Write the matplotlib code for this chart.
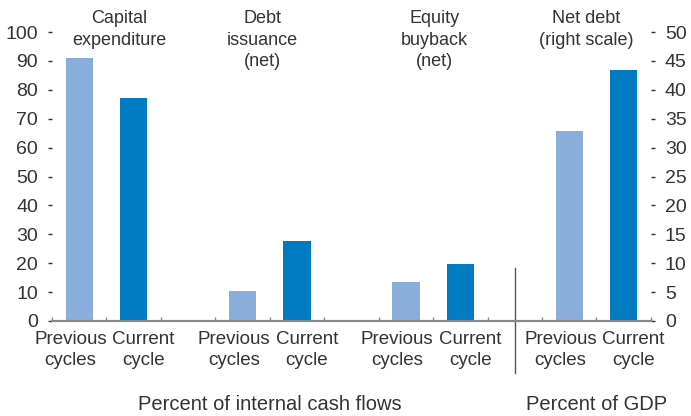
# Corporate cash-flow uses: previous cycles vs current cycle
# Bar chart with a second (right) scale for net debt

import numpy as np
import matplotlib
matplotlib.use("Agg")
import matplotlib.pyplot as plt

plt.rcParams['font.family'] = ['Liberation Sans', 'DejaVu Sans']

# Data
groups = ["Capital\nexpenditure", "Debt\nissuance\n(net)", "Equity\nbuyback\n(net)", "Net debt\n(right scale)"]
previous = [91, 10.5, 13.5, 32.8]     # last one is percent of GDP (right scale)
current = [77, 27.8, 19.8, 43.4]
bar_labels = ["Previous\ncycles", "Current\ncycle"]
left_ticks = list(range(0, 101, 10))
right_ticks = list(range(0, 51, 5))

text_col = "#333333"
axis_col = "#888888"
light = "#8AAEDB"
dark = "#007BC2"

fig = plt.figure(figsize=(6.91, 4.16), dpi=100)
ax = fig.add_axes([0.0753, 0.2284, 0.8667, 0.6946])
ax2 = ax.twinx()

# positions: each group takes 3 slots (prev, current, gap)
pos_prev = [3 * i for i in range(len(groups))]
pos_cur = [3 * i + 1 for i in range(len(groups))]

ax.bar(pos_prev[:3], previous[:3], width=0.5, color=light)
ax.bar(pos_cur[:3], current[:3], width=0.5, color=dark)
ax2.bar(pos_prev[3:], previous[3:], width=0.5, color=light)
ax2.bar(pos_cur[3:], current[3:], width=0.5, color=dark)

ax.set_xlim(-0.5, 10.5)
ax.set_ylim(0, 100)
ax2.set_ylim(0, 50)

# y axes
ax.set_yticks(left_ticks)
ax2.set_yticks(right_ticks)
ax.tick_params(axis="y", length=3, width=1, color=text_col, labelsize=14, labelcolor=text_col, pad=7)
ax2.tick_params(axis="y", length=3, width=1, color=text_col, labelsize=14, labelcolor=text_col, pad=7)

# x axis: small ticks at slot boundaries, labels drawn as text under bars
ax.set_xticks([])
ax.set_xticks(np.arange(-0.5, 11, 1), minor=True)
ax.tick_params(axis="x", which="minor", length=3, direction="in", color=axis_col, width=1)
xt = ax.get_xaxis_transform()
for p, c in zip(pos_prev, pos_cur):
    ax.text(p - 0.16, -0.035, bar_labels[0], transform=xt, ha="center", va="top",
            fontsize=13.5, color=text_col, linespacing=1.3)
    ax.text(c + 0.18, -0.035, bar_labels[1], transform=xt, ha="center", va="top",
            fontsize=13.5, color=text_col, linespacing=1.3)

for a in (ax, ax2):
    for s in ("top", "left", "right"):
        a.spines[s].set_visible(False)
    a.spines["bottom"].set_color(axis_col)
    a.spines["bottom"].set_linewidth(1.5)

# group titles at the top
title_x = [0.73, 3.36, 6.52, 9.31]
for gx, g in zip(title_x, groups):
    ax.text(gx, 1.076, g, transform=xt, ha="center", va="top",
            fontsize=13, color=text_col, linespacing=1.35)

# divider between the two scales
ax.plot([8, 8], [0.183, -0.18], transform=xt, color="#555555",
        linewidth=1, clip_on=False)

# bottom captions
ax.text(3.5, -0.29, "Percent of internal cash flows", transform=xt,
        ha="center", va="center", fontsize=14.5, color=text_col)
ax.text(9.5, -0.29, "Percent of GDP", transform=xt,
        ha="center", va="center", fontsize=14.5, color=text_col)

plt.savefig("out.png", dpi=100)
